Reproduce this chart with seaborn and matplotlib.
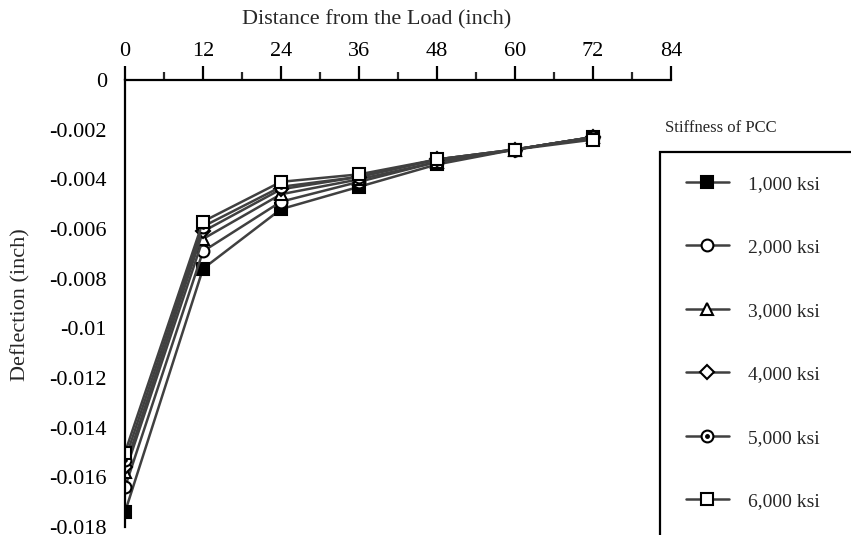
import matplotlib
matplotlib.use("Agg")
import matplotlib.pyplot as plt
import matplotlib.patches as mpatches
from matplotlib.lines import Line2D
from matplotlib.ticker import MultipleLocator, FuncFormatter
from matplotlib.legend_handler import HandlerTuple
import numpy as np
import pandas as pd
import seaborn as sns

# Deflection basin for different PCC stiffness values
distance = [0, 12, 24, 36, 48, 60, 72]
stiffness_labels = ["1,000 ksi", "2,000 ksi", "3,000 ksi", "4,000 ksi", "5,000 ksi", "6,000 ksi"]
defl_1000 = [-0.0174, -0.0076, -0.0052, -0.0043, -0.0034, -0.0028, -0.0023]
defl_2000 = [-0.0164, -0.0069, -0.0049, -0.0041, -0.0033, -0.0028, -0.0023]
defl_3000 = [-0.0158, -0.0064, -0.0046, -0.0040, -0.0033, -0.0028, -0.0023]
defl_4000 = [-0.0156, -0.0061, -0.0044, -0.0039, -0.0032, -0.0028, -0.0023]
defl_5000 = [-0.0153, -0.0059, -0.0043, -0.0039, -0.0032, -0.0028, -0.0023]
defl_6000 = [-0.0150, -0.0057, -0.0041, -0.0038, -0.0032, -0.0028, -0.0024]
series = [defl_1000, defl_2000, defl_3000, defl_4000, defl_5000, defl_6000]

sns.set_style("white")
plt.rcParams["font.family"] = ["Liberation Serif", "DejaVu Serif"]
plt.rcParams["axes.unicode_minus"] = False

W, H = 851, 535
fig = plt.figure(figsize=(W / 100, H / 100), dpi=100)
ax = fig.add_axes([125 / W, 1 - 527 / H, (671 - 125) / W, (527 - 80) / H])

line_color = "#404040"
marker_styles = [
    dict(marker="s", mfc="black", ms=9),
    dict(marker="o", mfc="white", ms=8.5),
    dict(marker="^", mfc="white", ms=9),
    dict(marker="D", mfc="white", ms=7),
    dict(marker="o", mfc="white", ms=8.5),
    dict(marker="s", mfc="white", ms=9),
]

handles = []
for vals, label, mstyle in zip(series, stiffness_labels, marker_styles):
    df = pd.DataFrame({"distance": distance, "deflection": vals})
    sns.lineplot(data=df, x="distance", y="deflection", ax=ax, color=line_color,
                 lw=1.8, mec="black", mew=1.5, legend=False, **mstyle)
    h = Line2D([], [], color=line_color, lw=1.8, mec="black", mew=1.5, **mstyle)
    if label == "5,000 ksi":
        # centre dot for the 5,000 ksi series
        sns.lineplot(data=df, x="distance", y="deflection", ax=ax, lw=0,
                     marker="o", ms=2.5, mfc="black", mec="black", legend=False)
        dot = Line2D([], [], lw=0, marker="o", ms=2.5, mfc="black", mec="black")
        h = (h, dot)
    handles.append(h)

ax.set_xlim(0, 84)
ax.set_ylim(-0.018, 0)
ax.xaxis.tick_top()
ax.xaxis.set_label_position("top")
ax.xaxis.set_major_locator(MultipleLocator(12))
ax.xaxis.set_minor_locator(MultipleLocator(6))
ax.yaxis.set_major_locator(MultipleLocator(0.002))


def fmt_defl(v, pos):
    v = round(v, 6)
    return "0" if v == 0 else f"{v:g}"


ax.yaxis.set_major_formatter(FuncFormatter(fmt_defl))

for s in ["bottom", "right"]:
    ax.spines[s].set_visible(False)
for s in ["top", "left"]:
    ax.spines[s].set_color("black")
    ax.spines[s].set_linewidth(1.6)

ax.tick_params(axis="x", which="major", direction="out", length=10, width=1.6,
               pad=4, labelsize=16, colors="black")
ax.tick_params(axis="x", which="minor", direction="out", length=6, width=1.6)
ax.tick_params(axis="y", which="major", direction="out", length=10, width=1.6,
               pad=3, labelsize=16, colors="black")

ax.set_xlabel("Distance from the Load (inch)", fontsize=16)
ax.xaxis.set_label_coords((377 - 125) / 546, 1 + (80 - 20) / 447)
ax.xaxis.label.set_va("center")
ax.set_ylabel("Deflection (inch)", fontsize=16)
ax.yaxis.set_label_coords((21 - 125) / 546, (527 - 305) / 447)
ax.yaxis.label.set_va("center")

# legend with its box running off the figure edge
fig.text(665 / W, 1 - 128 / H, "Stiffness of PCC", fontsize=12, va="center", ha="left")
fig.patches.append(mpatches.Rectangle((660 / W, -0.05), 1, 1 - 152 / H + 0.05,
                                      transform=fig.transFigure, fill=False,
                                      ec="black", lw=1.6, clip_on=False))
fig.legend(handles, stiffness_labels, loc="upper left",
           bbox_to_anchor=(686 / W, 1 - 175 / H), bbox_transform=fig.transFigure,
           frameon=False, fontsize=14, handlelength=2.2, handletextpad=1.0,
           labelspacing=2.36, borderpad=0, borderaxespad=0,
           handler_map={tuple: HandlerTuple(ndivide=1)})

fig.savefig("out.png", dpi=100)
